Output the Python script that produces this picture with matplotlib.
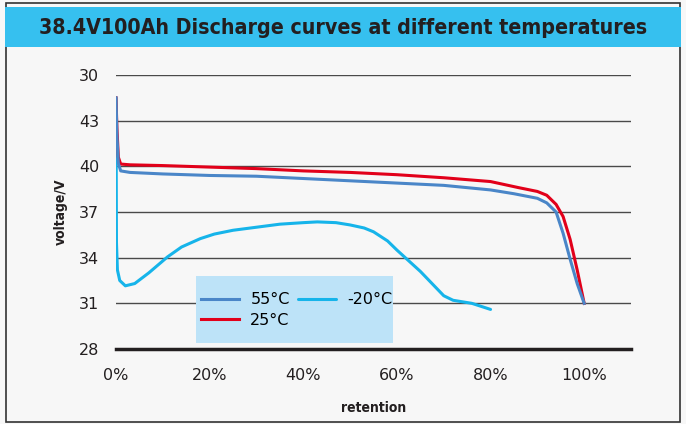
import matplotlib.pyplot as plt
from matplotlib.patches import Rectangle
from matplotlib import font_manager

# retention (%) vs voltage (V)
ret_55 = [0, 0.2, 0.5, 1, 3, 10, 20, 30, 40, 50, 60, 70, 80, 85, 90, 92, 94, 95.5, 97, 98.5, 100]
volt_55 = [44.5, 42.0, 40.2, 39.7, 39.6, 39.5, 39.4, 39.35, 39.2, 39.05, 38.9, 38.75, 38.45, 38.2, 37.9, 37.6, 37.0, 35.6, 33.9, 32.3, 31.0]

ret_25 = [0, 0.2, 0.5, 1, 3, 10, 20, 30, 40, 50, 60, 70, 80, 86, 90, 92, 94, 95.5, 97, 98.5, 100]
volt_25 = [44.5, 42.5, 40.6, 40.15, 40.1, 40.05, 39.95, 39.85, 39.7, 39.6, 39.45, 39.25, 39.0, 38.6, 38.35, 38.1, 37.5, 36.7, 35.2, 33.2, 31.0]

ret_m20 = [0, 0.05, 0.1, 0.3, 0.8, 2, 4, 7, 11, 14, 18, 21, 25, 30, 35, 40, 43, 47, 50, 53, 55, 58, 60, 65, 70, 72, 76, 80]
volt_m20 = [44.5, 40.0, 35.0, 33.2, 32.5, 32.15, 32.3, 33.0, 34.05, 34.7, 35.25, 35.55, 35.8, 36.0, 36.2, 36.3, 36.35, 36.3, 36.15, 35.95, 35.7, 35.1, 34.5, 33.1, 31.5, 31.2, 31.0, 30.6]

y_ticks = [28, 31, 34, 37, 40, 43, 46]
y_labels = ['28', '31', '34', '37', '40', '43', '30']
x_ticks = [0, 20, 40, 60, 80, 100]
x_labels = ['0%', '20%', '40%', '60%', '80%', '100%']

title = '38.4V100Ah Discharge curves at different temperatures'

names = {f.name for f in font_manager.fontManager.ttflist}
narrow = 'Liberation Sans Narrow' if 'Liberation Sans Narrow' in names else 'DejaVu Sans'

fig = plt.figure(figsize=(6.86, 4.24), dpi=100)
fig.patch.set_facecolor('#f7f7f7')

# outer frame and title banner
fig.patches.append(Rectangle((6 / 686, 0.004), 674 / 686, 0.99, transform=fig.transFigure,
                             facecolor='none', edgecolor='#333333', lw=1.2))
fig.patches.append(Rectangle((5 / 686, 1 - 47 / 424), 676 / 686, 40 / 424, transform=fig.transFigure,
                             facecolor='#36c0ef', edgecolor='none'))
fig.text(343 / 686, 1 - 28 / 424, title, ha='center', va='center', fontsize=15.3,
         fontweight='bold', fontstretch='condensed', color='#231f20', family=narrow)

ax = fig.add_axes([116 / 686, 1 - 349 / 424, 515 / 686, 274 / 424])
ax.set_facecolor('#f7f7f7')

for y in y_ticks[1:]:
    ax.axhline(y, color='#4a4a4a', lw=1.0, zorder=1)
ax.axhline(28, color='#231f20', lw=2.5, zorder=1, clip_on=False)

ax.plot(ret_m20, volt_m20, color='#16b4ea', lw=2.2, label='-20°C', zorder=3, solid_capstyle='round')
ax.plot(ret_25, volt_25, color='#e2001a', lw=2.2, label='25°C', zorder=4)
ax.plot(ret_55, volt_55, color='#4a86c8', lw=2.2, label='55°C', zorder=5)

ax.set_xlim(0, 110)
ax.set_ylim(28, 46)
ax.set_xticks(x_ticks)
ax.set_xticklabels(x_labels)
ax.set_yticks(y_ticks)
ax.set_yticklabels(y_labels)
ax.tick_params(length=0, labelsize=11.5, colors='#231f20', pad=12)
ax.tick_params(axis='x', pad=14)
for s in ax.spines.values():
    s.set_visible(False)

ax.set_ylabel('voltage/V', fontsize=10, fontweight='bold', color='#231f20', labelpad=8,
              fontstretch='condensed', family=narrow)
ax.set_xlabel('retention', fontsize=10, fontweight='bold', color='#231f20', labelpad=13,
              fontstretch='condensed', family=narrow)

# legend background box
ax.add_patch(Rectangle((80 / 515, 6 / 274), 197 / 515, 67 / 274, transform=ax.transAxes,
                       facecolor='#bde3f8', edgecolor='none', zorder=6))

handles, labels = ax.get_legend_handles_labels()
order = [2, 1, 0]
leg = ax.legend([handles[i] for i in order], [labels[i] for i in order], ncol=2,
                loc='center left', bbox_to_anchor=(80 / 515, 39 / 274), frameon=False,
                fontsize=11.5, handlelength=2.4, handletextpad=0.7, columnspacing=0.5,
                borderpad=0.3, labelspacing=0.35, borderaxespad=0)
leg.set_zorder(7)

fig.savefig('out.png', dpi=100, facecolor=fig.get_facecolor())
